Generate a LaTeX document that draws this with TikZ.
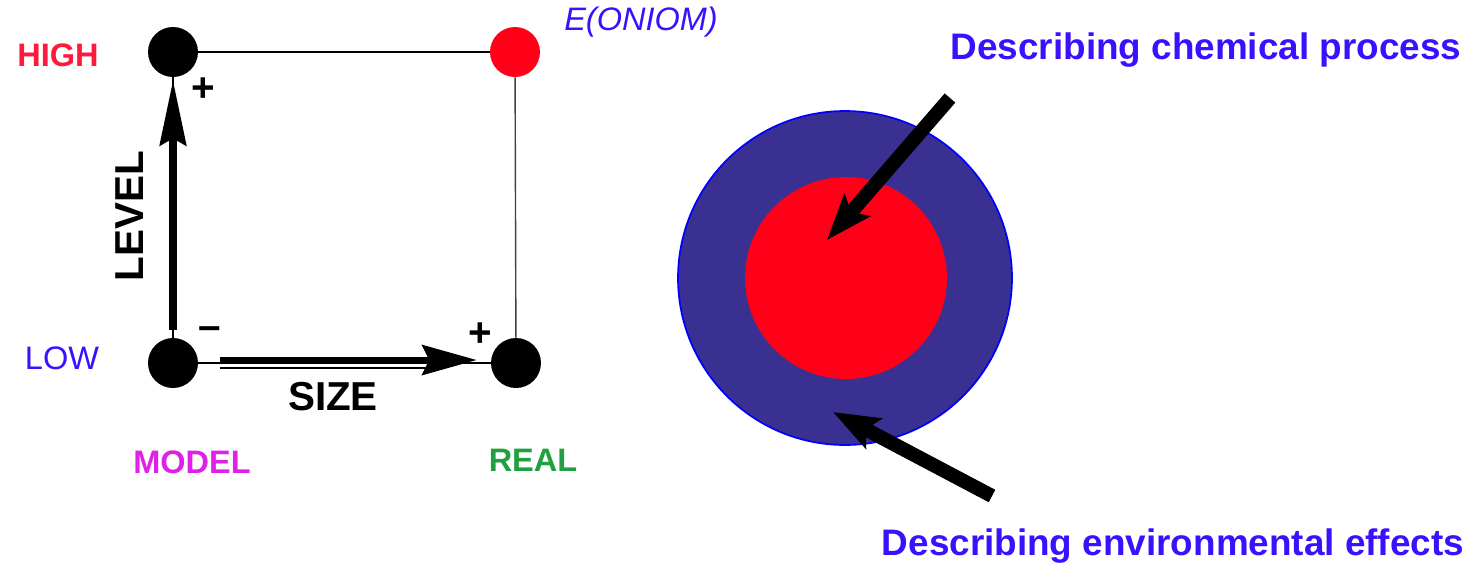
\documentclass[tikz,border=0pt]{standalone}
\usepackage{fontspec}
\setmainfont{Liberation Sans}
\usetikzlibrary{arrows.meta}

\definecolor{rougeH}{HTML}{FF1A3C}
\definecolor{bleuT}{HTML}{3A10FF}
\definecolor{magM}{HTML}{E020E8}
\definecolor{vertR}{HTML}{20A040}
\definecolor{bleuF}{HTML}{3A3092}
\definecolor{rougeC}{HTML}{FF0018}

\begin{document}
\begin{tikzpicture}[x=0.02cm,y=-0.02cm,
    point/.style={circle, fill=black, inner sep=0pt, minimum size=1cm},
    etiq/.style={inner sep=0pt, font=\bfseries\fontsize{18.5}{20}\selectfont},
    grand/.style={inner sep=0pt, font=\bfseries\fontsize{23}{25}\selectfont},
    legende/.style={inner sep=0pt, text=bleuT, font=\bfseries\fontsize{21}{23}\selectfont},
    grosse/.style={line width=8pt, -{Stealth[length=26pt, width=19pt, inset=5pt]}}]
    \useasboundingbox (0,0) rectangle (1478,566);

    % Carré des niveaux
    \node[point] (H) at (173,52) {};
    \node[point, fill=rougeC] (E) at (515,52) {};
    \node[point] (L) at (173,363) {};
    \node[point] (R) at (516,363) {};
    \draw[line width=1pt] (H) -- (E);
    \draw[line width=0.8pt, black!75] (E) -- (R);
    \draw[line width=0.8pt] (L) -- (H);
    \draw[line width=0.8pt] (L) -- (R);

    % Flèches niveau et taille
    \draw[line width=4pt, -{Stealth[length=37pt, width=15pt, inset=4pt]},
        shorten <=0.16cm, shorten >=0.06cm] (L) -- (H);
    \draw[line width=3.5pt, -{Stealth[length=31pt, width=17pt, inset=4pt]},
        shorten <=0.44cm, shorten >=0.28cm] ([yshift=1.7pt]L.east) -- ([yshift=1.7pt]R.west);
    \draw[line width=0.8pt, shorten <=0.44cm, shorten >=1.02cm]
        ([yshift=-2.8pt]L.east) -- ([yshift=-2.8pt]R.west);

    % Étiquettes du carré
    \node[etiq, text=rougeH] (haut) at (58,55) {HIGH};
    \node[inner sep=0pt, text=bleuT, font=\fontsize{18.5}{20}\selectfont] (bas) at (62,358) {LOW};
    \node[etiq, text=magM] (modele) at (192,462) {MODEL};
    \node[etiq, text=vertR] (reel) at (533,460) {REAL};
    \node[inner sep=0pt, text=bleuT, font=\itshape\fontsize{18.5}{20}\selectfont] (oniom) at (641,22) {E(ONIOM)};
    \node[grand, rotate=90] (niveau) at (130,216) {LEVEL};
    \node[grand] (taille) at (333,397) {SIZE};
    \node[grand] (plusH) at (203,90) {+};
    \node[grand] (moins) at (210,333) {--};
    \node[grand] (plusR) at (480,335) {+};

    % Cercles : environnement et cœur
    \node[circle, fill=bleuF, draw=blue, line width=1pt, minimum size=6.68cm] (env) at (845,278) {};
    \node[circle, fill=rougeC, inner sep=0pt, minimum size=4.04cm] (coeur) at (846,278) {};

    % Légendes et flèches
    \node[legende] (chimie) at (1206,50) {Describing chemical process};
    \node[legende] (milieu) at (1173,546) {Describing environmental effects};
    \coordinate (q1) at (950,98);
    \coordinate (p1) at (827,240);
    \coordinate (q2) at (992,496);
    \coordinate (p2) at (833,412);
    \draw[grosse] (q1) -- (p1);
    \draw[grosse] (q2) -- (p2);
\end{tikzpicture}
\end{document}
